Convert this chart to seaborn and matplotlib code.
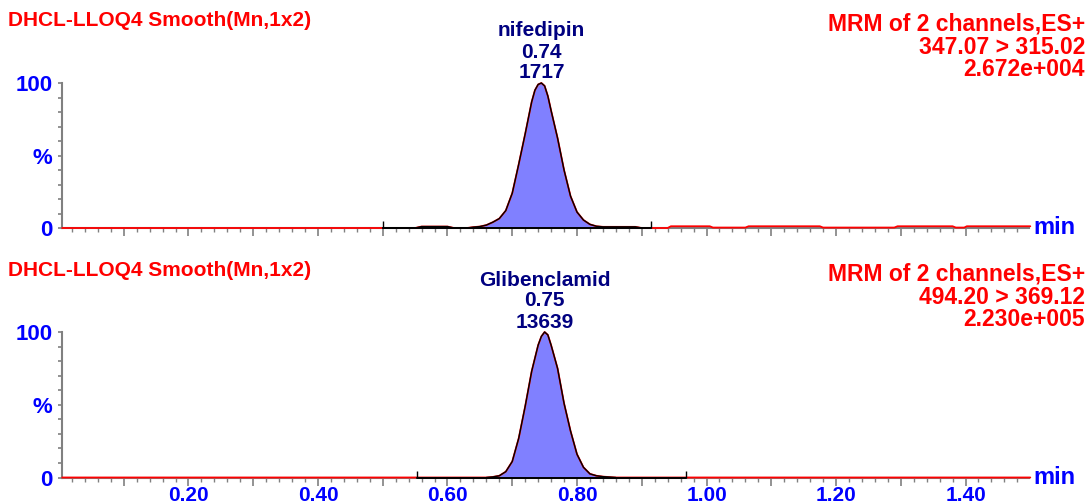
import numpy as np
import pandas as pd
import matplotlib
matplotlib.use("Agg")
import matplotlib.pyplot as plt
from matplotlib.ticker import MultipleLocator, FixedLocator
import seaborn as sns

sns.set_style("ticks")
plt.rcParams['font.family'] = ['Liberation Sans', 'DejaVu Sans']

# chromatogram 1: nifedipin, 347.07 > 315.02 (% of 2.672e+004)
top_time = [0.005, 0.50, 0.55, 0.56, 0.60, 0.61, 0.63, 0.64, 0.65, 0.66, 0.67, 0.68,
            0.69, 0.70, 0.71, 0.72, 0.73, 0.735, 0.74, 0.745, 0.75, 0.755, 0.76, 0.77,
            0.78, 0.79, 0.80, 0.81, 0.82, 0.83, 0.84, 0.89, 0.90, 0.94, 0.945, 1.005,
            1.01, 1.06, 1.065, 1.175, 1.18, 1.29, 1.295, 1.38, 1.385, 1.398, 1.402, 1.50]
top_pct = [0, 0, 0, 1.0, 1.0, 0, 0, 0.6, 1.0, 2, 4, 6.5,
           12, 24, 44, 65, 87, 95, 99, 100, 98, 91, 81, 62,
           40, 22, 11, 5.5, 2.5, 1.2, 0.8, 0.8, 0, 0, 1.2, 1.2,
           0.3, 0.3, 1.2, 1.2, 0.3, 0.3, 1.2, 1.2, 0.3, 0.3, 1.2, 1.2]
top_base = [0.50, 0.914]

# chromatogram 2: Glibenclamid, 494.20 > 369.12 (% of 2.230e+005)
bot_time = [0.005, 0.66, 0.67, 0.68, 0.69, 0.70, 0.71, 0.72, 0.73, 0.74, 0.745, 0.75,
            0.755, 0.76, 0.77, 0.78, 0.79, 0.80, 0.81, 0.82, 0.83, 0.84, 0.85, 0.86, 1.50]
bot_pct = [0, 0, 0.4, 1.2, 4, 11, 27, 49, 73, 91, 97, 100,
           98, 91, 75, 51, 32, 16, 7, 2.5, 1.2, 0.6, 0.3, 0, 0]
bot_base = [0.553, 0.968]

header = 'DHCL-LLOQ4 Smooth(Mn,1x2)'
top_info = ['MRM of 2 channels,ES+', '347.07 > 315.02', '2.672e+004']
bot_info = ['MRM of 2 channels,ES+', '494.20 > 369.12', '2.230e+005']
top_peak = ['nifedipin', '0.74', '1717']
bot_peak = ['Glibenclamid', '0.75', '13639']

x_ticks = [0.1, 0.2, 0.3, 0.4, 0.5, 0.6, 0.7, 0.8, 0.9, 1.0, 1.1, 1.2, 1.3, 1.4]
x_tick_labels = ['', '0.20', '', '0.40', '', '0.60', '', '0.80', '', '1.00', '', '1.20', '', '1.40']
y_ticks = [0, 50, 100]
y_tick_labels = ['0', '%', '100']

W, H = 1090, 504
fig = plt.figure(figsize=(W / 100, H / 100), dpi=100)

GRAY = '#808080'
BLUE = '#0000ff'
NAVY = '#000080'
RED = '#ff0000'
FILL = '#8080ff'


def draw(ax, t, pct, base, peak, show_labels):
    df = pd.DataFrame({'time': t, 'pct': pct})
    tt = np.array(t)
    pp = np.array(pct)
    inside = (tt >= base[0]) & (tt <= base[1])
    ax.fill_between(tt, pp, 0, where=inside, color=FILL, lw=0, interpolate=True)
    sns.lineplot(data=df, x='time', y='pct', ax=ax, color=RED, lw=1.3,
                 estimator=None, sort=False, clip_on=False)
    sub = df[(df.time >= base[0]) & (df.time <= base[1])]
    sns.lineplot(data=sub, x='time', y='pct', ax=ax, color='black', lw=1.0,
                 estimator=None, sort=False, clip_on=False)
    ax.plot(base, [0, 0], color='black', lw=1.4, clip_on=False)
    ax.vlines(base, 0, 4.5, color='black', lw=1.0, clip_on=False)

    ax.set_xlim(0.0047, 1.498)
    ax.set_ylim(0, 100)
    ax.set_xlabel('')
    ax.set_ylabel('')
    for s in ['top', 'right']:
        ax.spines[s].set_visible(False)
    for s in ['left', 'bottom']:
        ax.spines[s].set_color(GRAY)
        ax.spines[s].set_linewidth(1.5)
        ax.spines[s].set_zorder(0.5)

    ax.xaxis.set_major_locator(FixedLocator(x_ticks))
    ax.xaxis.set_minor_locator(MultipleLocator(0.02))
    if show_labels:
        ax.set_xticklabels(x_tick_labels)
    else:
        ax.set_xticklabels([''] * len(x_ticks))
    ax.yaxis.set_major_locator(FixedLocator(y_ticks))
    ax.yaxis.set_minor_locator(MultipleLocator(10))
    ax.set_yticklabels(y_tick_labels)

    ax.tick_params(axis='x', which='major', bottom=True, direction='out', length=5.5, width=1.2,
                   color=GRAY, pad=0.5, labelcolor=BLUE, labelsize=15)
    ax.tick_params(axis='x', which='minor', bottom=True, direction='out', length=3, width=1.0,
                   color=GRAY)
    ax.tick_params(axis='y', which='both', left=True, direction='out', length=3, width=1.2,
                   color=GRAY, pad=4, labelcolor=BLUE, labelsize=16)
    for lab in ax.get_xticklabels() + ax.get_yticklabels():
        lab.set_fontweight('bold')

    ax.text(1.005, 0, 'min', transform=ax.transAxes, ha='left', va='center',
            color=BLUE, fontsize=17, fontweight='bold')

    apex = t[int(np.argmax(pct))]
    for i, line in enumerate(peak):
        ax.annotate(line, xy=(apex, 100), xytext=(0, 52 - i * 21), textcoords='offset pixels',
                    ha='center', va='center', color=NAVY, fontsize=15, fontweight='bold')


ax1 = fig.add_axes([62 / W, 1 - 228 / H, 967 / W, 145 / H])
draw(ax1, top_time, top_pct, top_base, top_peak, False)
ax2 = fig.add_axes([62 / W, 1 - 477.5 / H, 967 / W, 145.5 / H])
draw(ax2, bot_time, bot_pct, bot_base, bot_peak, True)

for y0, info in [(21, top_info), (271, bot_info)]:
    fig.text(8 / W, 1 - y0 / H, header, ha='left', va='center', color=RED,
             fontsize=15, fontweight='bold')
    for i, line in enumerate(info):
        fig.text(1085 / W, 1 - (y0 + 3 + i * 23) / H, line, ha='right', va='center',
                 color=RED, fontsize=16.5, fontweight='bold')

fig.savefig('out.png', dpi=100)
